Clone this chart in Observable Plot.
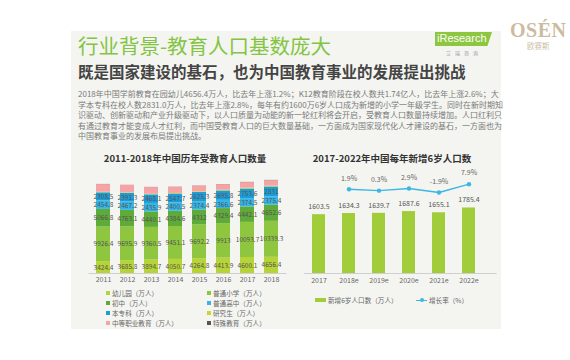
<!DOCTYPE html>
<html>
<head>
<meta charset="utf-8">
<script src="https://cdn.jsdelivr.net/npm/d3@7"></script>
<script src="https://cdn.jsdelivr.net/npm/@observablehq/plot@0.6"></script>
<style>
html, body { margin: 0; padding: 0; background: #ffffff; }
#page { position: relative; width: 570px; height: 360px; overflow: hidden; font-family: "Noto Sans CJK SC", "Noto Sans", sans-serif; }
.abs { position: absolute; white-space: nowrap; }
.slide { position: absolute; left: 71px; top: 31px; width: 430px; height: 298px; background: #f4f5f1; }
.title { left: 78px; top: 31px; font-size: 20.5px; line-height: 28px; color: #84c444; }
.subtitle { left: 78px; top: 60px; font-size: 15.5px; line-height: 22px; color: #444; font-weight: bold; }
.para { left: 78px; width: 414px; font-size: 8px; line-height: 11px; color: #7a7a7a; text-align: justify; text-align-last: justify; }
.para.last { text-align-last: left; }
.ctitle { font-size: 9.5px; font-weight: bold; color: #333; line-height: 14px; transform: translateX(-50%); }
.leg { font-size: 6.6px; color: #666; line-height: 10px; height: 10px; display: flex; align-items: center; }
.sw { display: inline-block; width: 4px; height: 4px; margin-right: 2px; }
.plot-layer { position: absolute; left: 0; top: 0; }
</style>
</head>
<body>
<div id="page">
  <div class="slide"></div>
  <div class="abs title">行业背景-教育人口基数庞大</div>
  <div class="abs subtitle">既是国家建设的基石，也为中国教育事业的发展提出挑战</div>
  <div class="abs para" style="top:88px">2018年中国学前教育在园幼儿4656.4万人，比去年上涨1.2%；K12教育阶段在校人数共1.74亿人，比去年上涨2.6%；大</div>
  <div class="abs para" style="top:98.5px">学本专科在校人数2831.0万人，比去年上涨2.8%，每年有约1600万6岁人口成为新增的小学一年级学生。同时在新时期知</div>
  <div class="abs para" style="top:109px">识驱动、创新驱动和产业升级驱动下，以人口质量为动能的新一轮红利将会开启，受教育人口数量持续增加。人口红利只</div>
  <div class="abs para" style="top:119.5px">有通过教育才能变成人才红利，而中国受教育人口的巨大数量基础，一方面成为国家现代化人才建设的基石，一方面也为</div>
  <div class="abs para last" style="top:130px">中国教育事业的发展布局提出挑战。</div>

  <!-- iResearch logo -->
  <div class="abs" style="left:435px; top:32px; width:57px; height:14px; background:#8dc63f; clip-path: polygon(0 0, 100% 0, 92% 100%, 0 100%);"></div>
  <div class="abs" style="left:437px; top:31px; font-family:'Liberation Sans',sans-serif; font-size:11px; line-height:15px; color:#ffffff;">iResearch</div>
  <div class="abs" style="left:446px; top:49px; font-size:5px; line-height:7px; color:#999; letter-spacing:4px;">艾瑞咨询</div>

  <!-- OSEN logo -->
  <div class="abs" style="left:510px; top:17px; font-family:'Liberation Serif',serif; font-weight:bold; font-size:20px; line-height:26px; color:#cbbc9f; letter-spacing:0.5px;">OSÉN</div>
  <div class="abs" style="left:527px; top:41px; font-size:7.5px; line-height:10px; color:#cbbc9f;">欧赛斯</div>

  <div class="abs ctitle" style="left:185px; top:151px;">2011-2018年中国历年受教育人口数量</div>
  <div class="abs ctitle" style="left:392px; top:151px;">2017-2022年中国每年新增6岁人口数</div>

  <div id="left" class="plot-layer"></div>
  <div id="right" class="plot-layer"></div>
  <div id="rate" class="plot-layer"></div>
  <div id="legends"></div>
</div>
<script>
// ---------- Left chart data (万人) ----------
const eduYears = ["2011", "2012", "2013", "2014", "2015", "2016", "2017", "2018"];
const kindergarten = [3424.4, 3685.8, 3894.7, 4050.7, 4264.8, 4413.9, 4600.1, 4656.4];
const primarySchool = [9926.4, 9695.9, 9360.5, 9451.1, 9692.2, 9913.0, 10093.7, 10339.3];
const juniorHigh = [5066.8, 4763.1, 4440.1, 4384.6, 4312.0, 4329.4, 4442.1, 4652.6];
const seniorHigh = [2454.8, 2467.2, 2435.9, 2400.5, 2374.4, 2366.6, 2374.5, 2375.4];
const undergrad = [2308.5, 2391.3, 2468.1, 2547.7, 2625.3, 2695.8, 2753.6, 2831.0];
const postgrad = [164.6, 172.0, 179.4, 184.8, 191.1, 198.1, 264.0, 273.1];
const vocational = [2205.3, 2113.7, 1923.0, 1755.3, 1656.7, 1599.0, 1592.5, 1555.3];
const specialEdu = [39.9, 37.9, 36.8, 39.5, 44.2, 49.2, 57.9, 66.6];
const eduCategories = ["幼儿园（万人）", "普通小学（万人）", "初中（万人）", "普通高中（万人）", "本专科（万人）", "研究生（万人）", "中等职业教育（万人）", "特殊教育（万人）"];
const eduColors = ["#b6d337", "#8ec63f", "#5eab3a", "#33b7e8", "#1d9dd8", "#c3d830", "#f5a3a6", "#555555"];
const labelledCategories = ["幼儿园（万人）", "普通小学（万人）", "初中（万人）", "普通高中（万人）", "本专科（万人）"];

// ---------- Right chart data ----------
const newYears = ["2017", "2018e", "2019e", "2020e", "2021e", "2022e"];
const newSixYearOlds = [1603.5, 1634.3, 1639.7, 1687.6, 1655.1, 1785.4];
const growthRate = [null, 1.9, 0.3, 2.9, -1.9, 7.9];

const font = "'Noto Sans CJK SC', 'Noto Sans', sans-serif";
const svgStyle = {background: "transparent", overflow: "visible", fontFamily: font};

// Build left table
const series = [kindergarten, primarySchool, juniorHigh, seniorHigh, undergrad, postgrad, vocational, specialEdu];
const eduTable = [];
eduCategories.forEach((cat, ci) => {
  eduYears.forEach((yr, yi) => {
    eduTable.push({year: yr, cat, value: series[ci][yi], show: labelledCategories.includes(cat)});
  });
});

const W = 570, H = 360;
const leftPlot = Plot.plot({
  width: W, height: H,
  marginLeft: 88.6, marginRight: W - 286.4, marginTop: 168.6, marginBottom: 87,
  style: svgStyle,
  x: {type: "band", domain: eduYears, paddingInner: 0.4, paddingOuter: 0.2, label: null},
  y: {domain: [0, 30000], axis: null},
  color: {domain: eduCategories, range: eduColors},
  marks: [
    Plot.barY(eduTable, {x: "year", y: "value", fill: "cat"}),
    Plot.ruleY([0], {stroke: "#cfcfcf", strokeWidth: 1}),
    Plot.text(eduTable, Plot.stackY({x: "year", y: "value", z: "cat", text: d => d.show ? String(d.value) : null, fontSize: 6.5, fill: "#555"})),
    Plot.axisX({tickSize: 0, tickPadding: 4, fontSize: 7, color: "#666", label: null})
  ]
});
document.getElementById("left").appendChild(leftPlot);

const newTable = newYears.map((yr, i) => ({year: yr, value: newSixYearOlds[i], rate: growthRate[i]}));
const xRight = {type: "band", domain: newYears, paddingInner: 0.57, paddingOuter: 0.285, label: null};
const rightPlot = Plot.plot({
  width: W, height: H,
  marginLeft: 302.85, marginRight: W - 484.65, marginTop: 181.25, marginBottom: 87,
  style: svgStyle,
  x: xRight,
  y: {domain: [0, 2500], axis: null},
  marks: [
    Plot.barY(newTable, {x: "year", y: "value", fill: "#a2cd3a"}),
    Plot.ruleY([0], {stroke: "#cfcfcf", strokeWidth: 1, insetRight: -12, insetLeft: 1}),
    Plot.text(newTable, {x: "year", y: "value", text: d => d.value.toFixed(1), dy: -8, fontSize: 7, fill: "#555"}),
    Plot.axisX({tickSize: 0, tickPadding: 5, fontSize: 7, color: "#666", label: null})
  ]
});
document.getElementById("right").appendChild(rightPlot);

const rateTable = newTable.filter(d => d.rate !== null);
const ratePlot = Plot.plot({
  width: W, height: H,
  marginLeft: 302.85, marginRight: W - 484.65, marginTop: 173.4, marginBottom: H - 207.4,
  style: svgStyle,
  x: {...xRight, axis: null},
  y: {domain: [-20, 20], axis: null},
  marks: [
    Plot.line(rateTable, {x: "year", y: "rate", stroke: "#3db6e6", strokeWidth: 1.4}),
    Plot.dot(rateTable, {x: "year", y: "rate", r: 2.2, fill: "#3db6e6"}),
    Plot.text(rateTable, {x: "year", y: "rate", text: d => d.rate.toFixed(1) + "%", dy: -11, fontSize: 7, fill: "#666"})
  ]
});
document.getElementById("rate").appendChild(ratePlot);

// Legends (HTML)
const leg = document.getElementById("legends");
const legCols = [106, 207];
const legRows = [293.3, 303.3, 313.3, 323.3];
eduCategories.forEach((cat, i) => {
  const col = i % 2, row = Math.floor(i / 2);
  const d = document.createElement("div");
  d.className = "abs leg";
  d.style.left = legCols[col] + "px";
  d.style.top = (legRows[row] - 5) + "px";
  d.innerHTML = `<span class="sw" style="background:${eduColors[i]}"></span>${cat}`;
  leg.appendChild(d);
});
const r1 = document.createElement("div");
r1.className = "abs leg";
r1.style.left = "315px"; r1.style.top = "295px";
r1.innerHTML = `<span style="display:inline-block;width:11px;height:4px;background:#a2cd3a;margin-right:2px"></span>新增6岁人口数（万人）`;
leg.appendChild(r1);
const r2 = document.createElement("div");
r2.className = "abs leg";
r2.style.left = "416px"; r2.style.top = "295px";
r2.innerHTML = `<span style="position:relative;display:inline-block;width:11px;height:4px;margin-right:2px"><span style="position:absolute;left:0;top:1.5px;width:11px;height:1.2px;background:#3db6e6"></span><span style="position:absolute;left:3.5px;top:0;width:4px;height:4px;border-radius:50%;background:#3db6e6"></span></span>增长率（%）`;
leg.appendChild(r2);
</script>
</body>
</html>
